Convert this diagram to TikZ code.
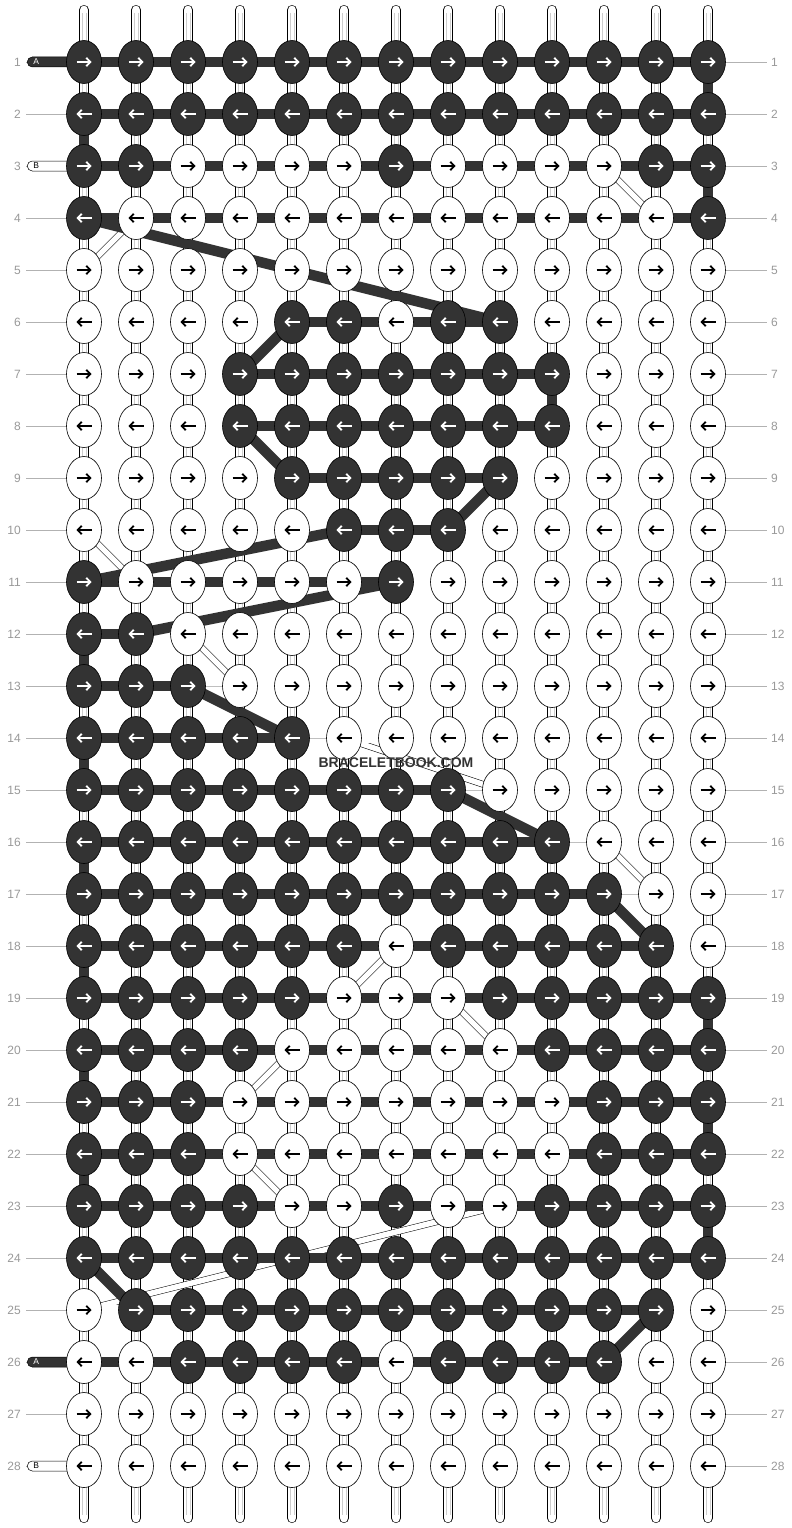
\documentclass[tikz,border=0pt]{standalone}
\usepackage{fontspec}
\setmainfont{Liberation Sans}
\usetikzlibrary{shapes.geometric, arrows.meta, calc}

\definecolor{threaddark}{HTML}{333333}
\definecolor{numgray}{HTML}{999999}
\pgfdeclarelayer{back}
\pgfsetlayers{back,main}

% row / knot colours (1 = dark) / links between neighbouring knots
\newcommand{\braidrows}{%
  1/{1,1,1,1,1,1,1,1,1,1,1,1,1}/{d,d,d,d,d,d,d,d,d,d,d,d},
  2/{1,1,1,1,1,1,1,1,1,1,1,1,1}/{d,d,d,d,d,d,d,d,d,d,d,d},
  3/{1,1,0,0,0,0,1,0,0,0,0,1,1}/{d,d,d,d,d,d,d,d,d,d,d,d},
  4/{1,0,0,0,0,0,0,0,0,0,0,0,1}/{d,d,d,d,d,d,d,d,d,d,d,d},
  5/{0,0,0,0,0,0,0,0,0,0,0,0,0}/{w,w,w,w,w,w,w,w,w,w,w,w},
  6/{0,0,0,0,1,1,0,1,1,0,0,0,0}/{w,w,w,w,d,d,d,d,w,w,w,w},
  7/{0,0,0,1,1,1,1,1,1,1,0,0,0}/{w,w,w,d,d,d,d,d,d,w,w,w},
  8/{0,0,0,1,1,1,1,1,1,1,0,0,0}/{w,w,w,d,d,d,d,d,d,w,w,w},
  9/{0,0,0,0,1,1,1,1,1,0,0,0,0}/{w,w,w,w,d,d,d,d,w,w,w,w},
  10/{0,0,0,0,0,1,1,1,0,0,0,0,0}/{w,w,w,w,w,d,d,w,w,w,w,w},
  11/{1,0,0,0,0,0,1,0,0,0,0,0,0}/{d,d,d,d,d,d,w,w,w,w,w,w},
  12/{1,1,0,0,0,0,0,0,0,0,0,0,0}/{d,n,w,w,w,w,w,w,w,w,w,w},
  13/{1,1,1,0,0,0,0,0,0,0,0,0,0}/{d,d,g,w,w,w,w,w,w,w,w,w},
  14/{1,1,1,1,1,0,0,0,0,0,0,0,0}/{d,d,d,d,g,w,w,w,w,w,w,w},
  15/{1,1,1,1,1,1,1,1,0,0,0,0,0}/{d,d,d,d,d,d,d,g,w,w,w,w},
  16/{1,1,1,1,1,1,1,1,1,1,0,0,0}/{d,d,d,d,d,d,d,d,d,g,w,w},
  17/{1,1,1,1,1,1,1,1,1,1,1,0,0}/{d,d,d,d,d,d,d,d,d,d,g,w},
  18/{1,1,1,1,1,1,0,1,1,1,1,1,0}/{d,d,d,d,d,d,d,d,d,d,d,w},
  19/{1,1,1,1,1,0,0,0,1,1,1,1,1}/{d,d,d,d,d,d,d,d,d,d,d,d},
  20/{1,1,1,1,0,0,0,0,0,1,1,1,1}/{d,d,d,d,d,d,d,d,d,d,d,d},
  21/{1,1,1,0,0,0,0,0,0,0,1,1,1}/{d,d,d,d,d,d,d,d,d,d,d,d},
  22/{1,1,1,0,0,0,0,0,0,0,1,1,1}/{d,d,d,d,d,d,d,d,d,d,d,d},
  23/{1,1,1,1,0,0,1,0,0,1,1,1,1}/{d,d,d,d,d,d,d,d,d,d,d,d},
  24/{1,1,1,1,1,1,1,1,1,1,1,1,1}/{d,d,d,d,d,d,d,d,d,d,d,d},
  25/{0,1,1,1,1,1,1,1,1,1,1,1,0}/{w,d,d,d,d,d,d,d,d,d,d,w},
  26/{0,0,1,1,1,1,0,1,1,1,1,0,0}/{d,d,d,d,d,d,d,d,d,d,w,w},
  27/{0,0,0,0,0,0,0,0,0,0,0,0,0}/{w,w,w,w,w,w,w,w,w,w,w,w},
  28/{0,0,0,0,0,0,0,0,0,0,0,0,0}/{w,w,w,w,w,w,w,w,w,w,w,w}}

\begin{document}
\begin{tikzpicture}[
    x=1pt, y=-1pt,
    knot/.style={ellipse, draw=black, line width=0.6pt, minimum width=35pt, minimum height=43pt, inner sep=0pt},
    knot1/.style={knot, fill=threaddark},
    knot0/.style={knot, fill=white},
    tip1/.style={white, line width=1.8pt, -{Straight Barb[length=4pt,width=8.5pt]}},
    tip0/.style={black, line width=1.8pt, -{Straight Barb[length=4pt,width=8.5pt]}},
    linkd/.style={draw=threaddark, line width=10.5pt},
    linkw/.style={draw=black, line width=0.6pt, double=white, double distance=9.6pt},
    linkg/.style={draw=black!25, line width=0.6pt},
    linkn/.style={},
    slantd/.style={draw=threaddark, line width=10.5pt},
    slantw/.style={draw=black, line width=0.5pt, double=white, double distance=5.5pt},
    strand/.style={draw=black, line width=0.6pt, double=white, double distance=8.8pt, line cap=round},
    core/.style={draw=black!20, line width=0.5pt},
    leader/.style={draw=black!30, line width=0.6pt},
    rownum/.style={text=numgray, font=\fontsize{12}{12}\selectfont, inner sep=0pt},
    startA/.style={draw=black, line width=0.5pt, fill=threaddark, text=white, rounded corners=5pt,
      minimum height=10pt, text width=38pt, inner xsep=6pt, inner ysep=0pt, align=left,
      font=\fontsize{8.5}{9}\selectfont},
    startB/.style={startA, fill=white, text=black}
  ]

\useasboundingbox (0,0) rectangle (792,1528);

% knots
\foreach \r/\knots/\links in \braidrows {
  \ifodd\r \def\half{7.5}\else \def\half{-7.5}\fi
  \foreach \v [count=\c] in \knots {
    \node[knot\v] (k-\r-\c) at ({84+52*(\c-1)}, {62+52*(\r-1)}) {};
    \draw[tip\v] ($(k-\r-\c)-(\half,0)$) -- ($(k-\r-\c)+(\half,0)$);
  }
}

\begin{pgfonlayer}{back}
\fill[white] (0,0) rectangle (792,1528);

% vertical strands
\foreach \c in {1,...,13} {
  \coordinate (st-\c) at ({84+52*(\c-1)}, 10);
  \coordinate (sb-\c) at ({84+52*(\c-1)}, 1518);
  \path[strand] (st-\c) -- (sb-\c);
  \path[core] ($(st-\c)+(-1.8,3)$) -- ($(sb-\c)+(-1.8,-3)$);
  \path[core] ($(st-\c)+(1.8,3)$) -- ($(sb-\c)+(1.8,-3)$);
}

% light threads carried across
\foreach \a/\b in {4-2/5-1, 3-11/4-12, 10-1/11-2, 12-3/13-4, 14-6/15-9, 16-11/17-12,
                   18-7/19-6, 19-8/20-9, 20-5/21-4, 22-4/23-5, 25-1/23-9}
  \path[slantw] (k-\a.center) -- (k-\b.center);

% row links
\foreach \r/\knots/\links in \braidrows {
  \foreach \t [count=\c] in \links {
    \pgfmathtruncatemacro\n{\c+1}
    \path[link\t] (k-\r-\c.center) -- (k-\r-\n.center);
  }
}

% turns at the edges
\foreach \c/\a/\b in {1/2/3, 1/12/13, 1/14/15, 1/16/17, 1/18/19, 1/20/21, 1/22/23,
                      13/1/2, 13/3/4, 13/19/20, 13/21/22, 13/23/24, 10/7/8}
  \path[linkd] (k-\a-\c.center) -- (k-\b-\c.center);

% dark threads carried across
\foreach \a/\b in {4-1/6-9, 7-4/6-5, 8-4/9-5, 10-8/9-9, 11-1/10-6, 12-2/11-7,
                   13-3/14-5, 15-8/16-10, 17-11/18-12, 24-1/25-2, 25-12/26-11}
  \path[slantd] (k-\a.center) -- (k-\b.center);

% leaders to the row numbers
\foreach \r in {1,...,28} {
  \coordinate (lf-\r) at (26, {62+52*(\r-1)});
  \coordinate (rf-\r) at (767, {62+52*(\r-1)});
  \path[leader] (lf-\r) -- (k-\r-1);
  \path[leader] (k-\r-13) -- (rf-\r);
}

% starting threads
\node[startA, anchor=west] (sa-1) at (27,62) {A};
\node[startB, anchor=west] (sb-3) at (27,166) {B};
\node[startA, anchor=west] (sa-26) at (27,1362) {A};
\node[startB, anchor=west] (sb-28) at (27,1466) {B};
\end{pgfonlayer}

% row numbers
\foreach \r in {1,...,28} {
  \node[rownum, anchor=east] (ln-\r) at (21, {62+52*(\r-1)}) {\r};
  \node[rownum, anchor=west] (rn-\r) at (771, {62+52*(\r-1)}) {\r};
}

\node[text=threaddark, font=\bfseries\fontsize{14}{14}\selectfont, inner sep=1pt] (mark) at (396,763) {BRACELETBOOK.COM};

\end{tikzpicture}
\end{document}
